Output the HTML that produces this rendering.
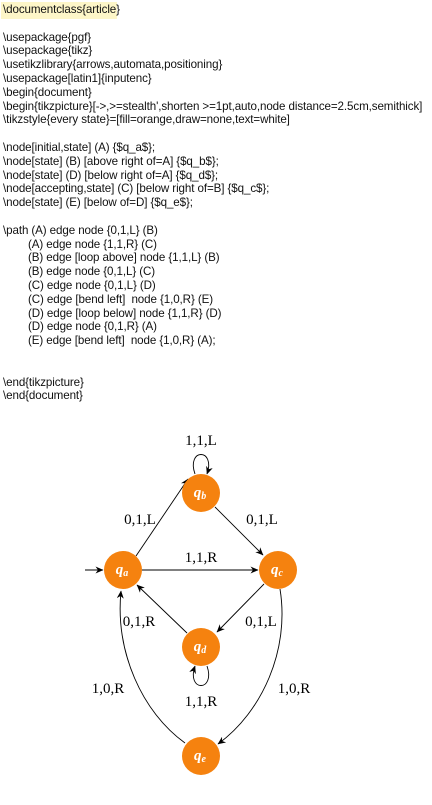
<!DOCTYPE html>
<html><head><meta charset="utf-8"><style>
html,body{margin:0;padding:0;background:#fff;width:432px;height:805px;overflow:hidden;}
.code{position:absolute;left:3px;top:3px;font-family:"Liberation Sans",sans-serif;font-size:11.6px;line-height:13.8px;color:#111;white-space:pre;letter-spacing:-0.1px;}
.hl{position:absolute;left:1px;top:2px;width:116px;height:17px;background:#fdf6c8;}
svg{position:absolute;left:0;top:0;}
</style></head><body>
<div class="hl"></div>
<div class="code">\documentclass{article}

\usepackage{pgf}
\usepackage{tikz}
\usetikzlibrary{arrows,automata,positioning}
\usepackage[latin1]{inputenc}
\begin{document}
\begin{tikzpicture}[-&gt;,&gt;=stealth',shorten &gt;=1pt,auto,node distance=2.5cm,semithick]
\tikzstyle{every state}=[fill=orange,draw=none,text=white]

\node[initial,state] (A) {$q_a$};
\node[state] (B) [above right of=A] {$q_b$};
\node[state] (D) [below right of=A] {$q_d$};
\node[accepting,state] (C) [below right of=B] {$q_c$};
\node[state] (E) [below of=D] {$q_e$};

\path (A) edge node {0,1,L} (B)
        (A) edge node {1,1,R} (C)
        (B) edge [loop above] node {1,1,L} (B)
        (B) edge node {0,1,L} (C)
        (C) edge node {0,1,L} (D)
        (C) edge [bend left]  node {1,0,R} (E)
        (D) edge [loop below] node {1,1,R} (D)
        (D) edge node {0,1,R} (A)
        (E) edge [bend left]  node {1,0,R} (A);


\end{tikzpicture}
\end{document}</div>
<svg width="432" height="805" viewBox="0 0 432 805">
<defs><marker id="a" markerWidth="8" markerHeight="7" refX="7.5" refY="3.5" orient="auto" markerUnits="userSpaceOnUse"><path d="M0,0 L8,3.5 L0,7 L2.5,3.5 Z" fill="#000"/></marker></defs>
<g stroke="#000" stroke-width="0.9" fill="none" marker-end="url(#a)">
<line x1="85" y1="570" x2="103" y2="570"/>
<line x1="142" y1="570" x2="258" y2="570"/>
<line x1="136" y1="556" x2="188" y2="479"/>
<line x1="215" y1="507" x2="263" y2="555"/>
<line x1="264" y1="584" x2="217" y2="632"/>
<line x1="187" y1="633" x2="137" y2="585"/>
<path d="M195,474 C186,448 216,448 207,474"/>
<path d="M207,666 C216,692 186,692 195,666"/>
<path d="M280,589 C290,650 262,712 218,744"/>
<path d="M185,743 C142,712 115,652 121,591"/>
</g>
<g fill="#f5820f">
<circle cx="201" cy="493" r="19"/><circle cx="123" cy="570" r="19"/>
<circle cx="278" cy="570" r="19"/><circle cx="201" cy="647" r="19"/>
<circle cx="201" cy="756" r="19"/>
</g>
<g fill="#fff" font-family="Liberation Serif,serif" font-style="italic" font-weight="bold" font-size="15" text-anchor="middle">
<text x="200" y="497">q<tspan font-size="10" dy="2">b</tspan></text>
<text x="122" y="574">q<tspan font-size="10" dy="2">a</tspan></text>
<text x="277" y="574">q<tspan font-size="10" dy="2">c</tspan></text>
<text x="200" y="651">q<tspan font-size="10" dy="2">d</tspan></text>
<text x="200" y="760">q<tspan font-size="10" dy="2">e</tspan></text>
</g>
<g fill="#000" font-family="Liberation Serif,serif" font-size="15" text-anchor="middle">
<text x="201" y="445">1,1,L</text>
<text x="140" y="524">0,1,L</text>
<text x="262" y="524">0,1,L</text>
<text x="201" y="562">1,1,R</text>
<text x="139" y="626">0,1,R</text>
<text x="261" y="626">0,1,L</text>
<text x="201" y="706">1,1,R</text>
<text x="108" y="693">1,0,R</text>
<text x="294" y="693">1,0,R</text>
</g>
</svg>
</body></html>
